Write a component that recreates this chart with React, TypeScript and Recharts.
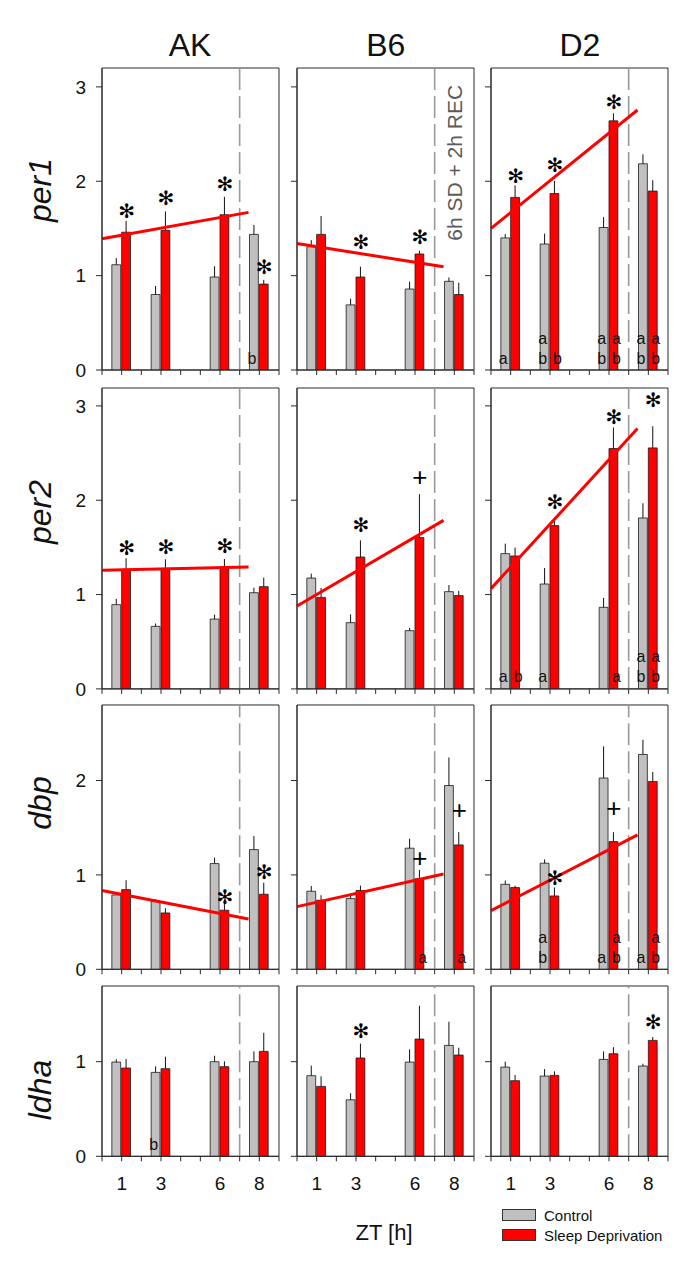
import React from 'react';
import {
  ComposedChart,
  Bar,
  Cell,
  ErrorBar,
  XAxis,
  YAxis,
  ReferenceLine,
  ReferenceArea,
  ReferenceDot,
} from 'recharts';

// ---------------- data ----------------
const ZT = [1, 3, 6, 8];
const ZT_LABELS = [1, 3, 6, 8];
const X_TICKS = [0, 1, 2, 3, 4, 5, 6, 7, 8, 9];
const STRAINS = ['AK', 'B6', 'D2'];
const GENES = ['per1', 'per2', 'dbp', 'ldha'];
const SD_END = 7; // 6h SD + 2h REC split
const FIT_END = 7.45;

// per1
const akPer1Ctrl = [1.115, 0.8, 0.985, 1.437];
const akPer1CtrlErr = [0.07, 0.09, 0.115, 0.1];
const akPer1Sd = [1.46, 1.48, 1.645, 0.91];
const akPer1SdErr = [0.12, 0.2, 0.19, 0.045];
const b6Per1Ctrl = [1.306, 0.69, 0.858, 0.94];
const b6Per1CtrlErr = [0.07, 0.065, 0.077, 0.04];
const b6Per1Sd = [1.437, 0.985, 1.229, 0.8];
const b6Per1SdErr = [0.195, 0.11, 0.035, 0.125];
const d2Per1Ctrl = [1.4, 1.335, 1.51, 2.185];
const d2Per1CtrlErr = [0.04, 0.11, 0.11, 0.1];
const d2Per1Sd = [1.829, 1.87, 2.64, 1.896];
const d2Per1SdErr = [0.127, 0.135, 0.08, 0.115];

// per2
const akPer2Ctrl = [0.893, 0.663, 0.74, 1.02];
const akPer2CtrlErr = [0.06, 0.03, 0.047, 0.053];
const akPer2Sd = [1.268, 1.268, 1.292, 1.084];
const akPer2SdErr = [0.117, 0.106, 0.085, 0.096];
const b6Per2Ctrl = [1.175, 0.702, 0.617, 1.031];
const b6Per2CtrlErr = [0.047, 0.088, 0.03, 0.07];
const b6Per2Sd = [0.97, 1.398, 1.604, 0.989];
const b6Per2SdErr = [0.1, 0.177, 0.46, 0.05];
const d2Per2Ctrl = [1.434, 1.112, 0.865, 1.812];
const d2Per2CtrlErr = [0.106, 0.17, 0.1, 0.156];
const d2Per2Sd = [1.409, 1.731, 2.548, 2.555];
const d2Per2SdErr = [0.089, 0.078, 0.223, 0.23];

// dbp
const akDbpCtrl = [0.788, 0.717, 1.12, 1.268];
const akDbpCtrlErr = [0.02, 0.025, 0.063, 0.145];
const akDbpSd = [0.844, 0.597, 0.626, 0.795];
const akDbpSdErr = [0.1, 0.05, 0.07, 0.123];
const b6DbpCtrl = [0.827, 0.749, 1.283, 1.947];
const b6DbpCtrlErr = [0.056, 0.046, 0.1, 0.297];
const b6DbpSd = [0.732, 0.834, 0.958, 1.318];
const b6DbpSdErr = [0.053, 0.053, 0.095, 0.135];
const d2DbpCtrl = [0.9, 1.124, 2.026, 2.276];
const d2DbpCtrlErr = [0.04, 0.04, 0.336, 0.155];
const d2DbpSd = [0.866, 0.777, 1.353, 1.99];
const d2DbpSdErr = [0.02, 0.09, 0.1, 0.1];

// ldha
const akLdhaCtrl = [0.996, 0.887, 1.0, 1.0];
const akLdhaCtrlErr = [0.03, 0.063, 0.063, 0.109];
const akLdhaSd = [0.933, 0.926, 0.947, 1.109];
const akLdhaSdErr = [0.095, 0.127, 0.056, 0.197];
const b6LdhaCtrl = [0.852, 0.597, 0.996, 1.172];
const b6LdhaCtrlErr = [0.106, 0.07, 0.134, 0.25];
const b6LdhaSd = [0.739, 1.039, 1.239, 1.07];
const b6LdhaSdErr = [0.106, 0.152, 0.352, 0.078];
const d2LdhaCtrl = [0.943, 0.848, 1.024, 0.954];
const d2LdhaCtrlErr = [0.057, 0.074, 0.085, 0.025];
const d2LdhaSd = [0.799, 0.855, 1.084, 1.225];
const d2LdhaSdErr = [0.06, 0.043, 0.07, 0.035];

// regression lines of the SD values: [value at ZT0, value at FIT_END]
const akPer1Fit = [1.39, 1.67];
const b6Per1Fit = [1.34, 1.094];
const d2Per1Fit = [1.5, 2.755];
const akPer2Fit = [1.257, 1.292];
const b6Per2Fit = [0.878, 1.787];
const d2Per2Fit = [1.063, 2.76];
const akDbpFit = [0.834, 0.533];
const b6DbpFit = [0.664, 1.01];
const d2DbpFit = [0.621, 1.424];

// significance marks
const STAR = '✻';
const PLUS = '+';
const akPer1Marks = [
  { zt: 1, grp: 'sd', sym: STAR, y: 1.69 },
  { zt: 3, grp: 'sd', sym: STAR, y: 1.82 },
  { zt: 6, grp: 'sd', sym: STAR, y: 1.97 },
  { zt: 8, grp: 'sd', sym: STAR, y: 1.094 },
];
const b6Per1Marks = [
  { zt: 3, grp: 'sd', sym: STAR, y: 1.36 },
  { zt: 6, grp: 'sd', sym: STAR, y: 1.41 },
];
const d2Per1Marks = [
  { zt: 1, grp: 'sd', sym: STAR, y: 2.055 },
  { zt: 3, grp: 'sd', sym: STAR, y: 2.17 },
  { zt: 6, grp: 'sd', sym: STAR, y: 2.84 },
];
const akPer2Marks = [
  { zt: 1, grp: 'sd', sym: STAR, y: 1.497 },
  { zt: 3, grp: 'sd', sym: STAR, y: 1.504 },
  { zt: 6, grp: 'sd', sym: STAR, y: 1.515 },
];
const b6Per2Marks = [
  { zt: 3, grp: 'sd', sym: STAR, y: 1.734 },
  { zt: 6, grp: 'sd', sym: PLUS, y: 2.247 },
];
const d2Per2Marks = [
  { zt: 3, grp: 'sd', sym: STAR, y: 1.981 },
  { zt: 6, grp: 'sd', sym: STAR, y: 2.882 },
  { zt: 8, grp: 'sd', sym: STAR, y: 3.059 },
];
const akDbpMarks = [
  { zt: 6, grp: 'sd', sym: STAR, y: 0.77 },
  { zt: 8, grp: 'sd', sym: STAR, y: 1.035 },
];
const b6DbpMarks = [
  { zt: 6, grp: 'sd', sym: PLUS, y: 1.177 },
  { zt: 8, grp: 'sd', sym: PLUS, y: 1.69 },
];
const d2DbpMarks = [
  { zt: 3, grp: 'sd', sym: STAR, y: 0.965 },
  { zt: 6, grp: 'sd', sym: PLUS, y: 1.707 },
];
const akLdhaMarks = [];
const b6LdhaMarks = [{ zt: 3, grp: 'sd', sym: STAR, y: 1.32 }];
const d2LdhaMarks = [{ zt: 8, grp: 'sd', sym: STAR, y: 1.418 }];

// letters below bars
const akPer1Letters = [{ zt: 8, grp: 'ctrl', txt: 'b' }];
const d2Per1Letters = [
  { zt: 1, grp: 'ctrl', txt: 'a' },
  { zt: 3, grp: 'ctrl', txt: 'ab' },
  { zt: 3, grp: 'sd', txt: 'b' },
  { zt: 6, grp: 'ctrl', txt: 'ab' },
  { zt: 6, grp: 'sd', txt: 'ab' },
  { zt: 8, grp: 'ctrl', txt: 'ab' },
  { zt: 8, grp: 'sd', txt: 'ab' },
];
const d2Per2Letters = [
  { zt: 1, grp: 'ctrl', txt: 'a' },
  { zt: 1, grp: 'sd', txt: 'b' },
  { zt: 3, grp: 'ctrl', txt: 'a' },
  { zt: 6, grp: 'sd', txt: 'a' },
  { zt: 8, grp: 'ctrl', txt: 'ab' },
  { zt: 8, grp: 'sd', txt: 'ab' },
];
const b6DbpLetters = [
  { zt: 6, grp: 'sd', txt: 'a' },
  { zt: 8, grp: 'sd', txt: 'a' },
];
const d2DbpLetters = [
  { zt: 3, grp: 'ctrl', txt: 'ab' },
  { zt: 6, grp: 'ctrl', txt: 'a' },
  { zt: 6, grp: 'sd', txt: 'ab' },
  { zt: 8, grp: 'ctrl', txt: 'a' },
  { zt: 8, grp: 'sd', txt: 'ab' },
];
const akLdhaLetters = [{ zt: 3, grp: 'ctrl', txt: 'b' }];

const NOTE_TEXT = '6h SD + 2h REC';
const NOTE_POS = { x: 8.02, y: 2.195 };

// ---------------- layout / style ----------------
const FONT = '"Liberation Sans", Arial, Helvetica, sans-serif';
const GREY = '#c0c0c0';
const RED = '#ff0000';
const INK = '#2a2a2a';
const PW = 177;
const UNIT_PX = PW / 9;
const BAR_W = UNIT_PX / 2;
const COL_LEFT = [101.6, 297.3, 491.4];
const ROWS = [
  { top: 68, h: 302, max: 3.2, ticks: [0, 1, 2, 3] },
  { top: 387.6, h: 300.9, max: 3.19, ticks: [0, 1, 2, 3] },
  { top: 705, h: 264.3, max: 2.8, ticks: [0, 1, 2] },
  { top: 985.7, h: 170.3, max: 1.8, ticks: [0, 1] },
];
const LABEL_Y = [190, 512, 803, 1090];

const xOf = (zt, grp) => (grp === 'ctrl' ? zt - 0.25 : zt + 0.25);

function buildRows(ctrl, ctrlErr, sd, sdErr) {
  const rows = [];
  ZT.forEach((z, j) => {
    rows.push({ x: xOf(z, 'ctrl'), v: ctrl[j], err: [0, ctrlErr[j]], grp: 'ctrl' });
    rows.push({ x: xOf(z, 'sd'), v: sd[j], err: [0, sdErr[j]], grp: 'sd' });
  });
  return rows;
}

function Panel({ row, col, ctrl, ctrlErr, sd, sdErr, fit, marks, letters, note }) {
  const r = ROWS[row];
  const ML = 60;
  const MT = 10;
  const MR = 10;
  const XH = 48;
  const W = ML + PW + MR;
  const H = MT + r.h + XH;
  const rows = buildRows(ctrl, ctrlErr, sd, sdErr);
  const bottom = row === ROWS.length - 1;
  return (
    <div style={{ position: 'absolute', left: COL_LEFT[col] - ML, top: r.top - MT }}>
      <ComposedChart
        width={W}
        height={H}
        data={rows}
        margin={{ top: MT, right: MR, bottom: 0, left: 0 }}
        barCategoryGap={0}
        barGap={0}
      >
        <XAxis
          dataKey="x"
          type="number"
          domain={[0, 9]}
          ticks={X_TICKS}
          interval={0}
          allowDataOverflow
          height={XH}
          tickSize={5}
          tickMargin={15}
          axisLine={{ stroke: INK }}
          tickLine={{ stroke: INK }}
          tick={{ fontSize: 19, fill: '#111', fontFamily: FONT }}
          tickFormatter={(v) => (bottom && ZT_LABELS.includes(v) ? String(v) : '')}
        />
        <YAxis
          type="number"
          domain={[0, r.max]}
          ticks={r.ticks}
          interval={0}
          allowDataOverflow
          width={ML}
          tickSize={6}
          tickMargin={10}
          axisLine={{ stroke: INK }}
          tickLine={{ stroke: INK }}
          tick={{ fontSize: 19, fill: '#111', fontFamily: FONT }}
          tickFormatter={(v) => (col === 0 ? String(v) : '')}
        />
        <ReferenceArea x1={0} x2={9} y1={0} y2={r.max} fill="none" fillOpacity={0} stroke={INK} strokeWidth={1} />
        <Bar dataKey="v" barSize={BAR_W} isAnimationActive={false} stroke="#1a1a1a" strokeWidth={0.8}>
          {rows.map((d, i) => (
            <Cell key={i} fill={d.grp === 'ctrl' ? GREY : RED} />
          ))}
          <ErrorBar dataKey="err" width={0} stroke="#111" strokeWidth={1} direction="y" isAnimationActive={false} />
        </Bar>
        <ReferenceLine x={SD_END} stroke="#999" strokeWidth={1.6} strokeDasharray="22 6" />
        {fit && (
          <ReferenceLine
            segment={[
              { x: 0, y: fit[0] },
              { x: FIT_END, y: fit[1] },
            ]}
            stroke={RED}
            strokeWidth={3}
            ifOverflow="visible"
          />
        )}
        {marks.map((m, i) => (
          <ReferenceDot
            key={'m' + i}
            x={xOf(m.zt, m.grp)}
            y={m.y}
            r={0}
            ifOverflow="visible"
            shape={(p) => (
              <text
                x={p.cx}
                y={p.cy}
                textAnchor="middle"
                dominantBaseline="central"
                fontSize={m.sym === STAR ? 20 : 26}
                fontFamily={m.sym === STAR ? 'DejaVu Sans' : FONT}
                fill="#000"
              >
                {m.sym}
              </text>
            )}
          />
        ))}
        {letters.map((l, i) => (
          <ReferenceDot
            key={'l' + i}
            x={xOf(l.zt, l.grp)}
            y={0}
            r={0}
            ifOverflow="visible"
            shape={(p) => (
              <g>
                {l.txt
                  .split('')
                  .reverse()
                  .map((ch, j) => (
                    <text
                      key={j}
                      x={p.cx + (l.grp === 'ctrl' ? -2.5 : 2.5)}
                      y={p.cy - 12 - 20 * j}
                      textAnchor="middle"
                      dominantBaseline="central"
                      fontSize={16}
                      fontFamily={FONT}
                      fill="#111"
                    >
                      {ch}
                    </text>
                  ))}
              </g>
            )}
          />
        ))}
        {note && (
          <ReferenceDot
            x={NOTE_POS.x}
            y={NOTE_POS.y}
            r={0}
            ifOverflow="visible"
            shape={(p) => (
              <text
                x={p.cx}
                y={p.cy}
                transform={`rotate(-90 ${p.cx} ${p.cy})`}
                textAnchor="middle"
                dominantBaseline="central"
                fontSize={21}
                fontFamily={FONT}
                fill="#5a5a5a"
              >
                {NOTE_TEXT}
              </text>
            )}
          />
        )}
      </ComposedChart>
    </div>
  );
}

const PANELS = [
  [
    { ctrl: akPer1Ctrl, ctrlErr: akPer1CtrlErr, sd: akPer1Sd, sdErr: akPer1SdErr, fit: akPer1Fit, marks: akPer1Marks, letters: akPer1Letters },
    { ctrl: b6Per1Ctrl, ctrlErr: b6Per1CtrlErr, sd: b6Per1Sd, sdErr: b6Per1SdErr, fit: b6Per1Fit, marks: b6Per1Marks, letters: [], note: true },
    { ctrl: d2Per1Ctrl, ctrlErr: d2Per1CtrlErr, sd: d2Per1Sd, sdErr: d2Per1SdErr, fit: d2Per1Fit, marks: d2Per1Marks, letters: d2Per1Letters },
  ],
  [
    { ctrl: akPer2Ctrl, ctrlErr: akPer2CtrlErr, sd: akPer2Sd, sdErr: akPer2SdErr, fit: akPer2Fit, marks: akPer2Marks, letters: [] },
    { ctrl: b6Per2Ctrl, ctrlErr: b6Per2CtrlErr, sd: b6Per2Sd, sdErr: b6Per2SdErr, fit: b6Per2Fit, marks: b6Per2Marks, letters: [] },
    { ctrl: d2Per2Ctrl, ctrlErr: d2Per2CtrlErr, sd: d2Per2Sd, sdErr: d2Per2SdErr, fit: d2Per2Fit, marks: d2Per2Marks, letters: d2Per2Letters },
  ],
  [
    { ctrl: akDbpCtrl, ctrlErr: akDbpCtrlErr, sd: akDbpSd, sdErr: akDbpSdErr, fit: akDbpFit, marks: akDbpMarks, letters: [] },
    { ctrl: b6DbpCtrl, ctrlErr: b6DbpCtrlErr, sd: b6DbpSd, sdErr: b6DbpSdErr, fit: b6DbpFit, marks: b6DbpMarks, letters: b6DbpLetters },
    { ctrl: d2DbpCtrl, ctrlErr: d2DbpCtrlErr, sd: d2DbpSd, sdErr: d2DbpSdErr, fit: d2DbpFit, marks: d2DbpMarks, letters: d2DbpLetters },
  ],
  [
    { ctrl: akLdhaCtrl, ctrlErr: akLdhaCtrlErr, sd: akLdhaSd, sdErr: akLdhaSdErr, fit: null, marks: akLdhaMarks, letters: akLdhaLetters },
    { ctrl: b6LdhaCtrl, ctrlErr: b6LdhaCtrlErr, sd: b6LdhaSd, sdErr: b6LdhaSdErr, fit: null, marks: b6LdhaMarks, letters: [] },
    { ctrl: d2LdhaCtrl, ctrlErr: d2LdhaCtrlErr, sd: d2LdhaSd, sdErr: d2LdhaSdErr, fit: null, marks: d2LdhaMarks, letters: [] },
  ],
];

export default function App() {
  return (
    <div
      style={{
        position: 'absolute',
        left: 0,
        top: 0,
        width: 685,
        height: 1276,
        background: '#fff',
        fontFamily: FONT,
        color: '#111',
      }}
    >
      {STRAINS.map((s, c) => (
        <div
          key={s}
          style={{
            position: 'absolute',
            left: COL_LEFT[c] + PW / 2,
            top: 45,
            transform: 'translate(-50%, -50%)',
            fontSize: 32,
            whiteSpace: 'nowrap',
          }}
        >
          {s}
        </div>
      ))}
      {GENES.map((g, i) => (
        <div
          key={g}
          style={{
            position: 'absolute',
            left: 40,
            top: LABEL_Y[i],
            transform: 'translate(-50%, -50%) rotate(-90deg)',
            fontSize: 32,
            fontStyle: 'italic',
            whiteSpace: 'nowrap',
          }}
        >
          {g}
        </div>
      ))}
      {PANELS.map((rowPanels, ri) =>
        rowPanels.map((p, ci) => <Panel key={ri + '-' + ci} row={ri} col={ci} {...p} />)
      )}
      <div
        style={{
          position: 'absolute',
          left: 384,
          top: 1233,
          transform: 'translate(-50%, -50%)',
          fontSize: 22,
          whiteSpace: 'nowrap',
        }}
      >
        ZT [h]
      </div>
      {[
        { label: 'Control', fill: GREY, top: 1209 },
        { label: 'Sleep Deprivation', fill: RED, top: 1228.5 },
      ].map((it) => (
        <div key={it.label}>
          <div
            style={{
              position: 'absolute',
              left: 502,
              top: it.top,
              width: 32,
              height: 10,
              background: it.fill,
              border: '1px solid #333',
            }}
          />
          <div
            style={{
              position: 'absolute',
              left: 544,
              top: it.top + 6,
              transform: 'translateY(-50%)',
              fontSize: 15,
              whiteSpace: 'nowrap',
            }}
          >
            {it.label}
          </div>
        </div>
      ))}
    </div>
  );
}
